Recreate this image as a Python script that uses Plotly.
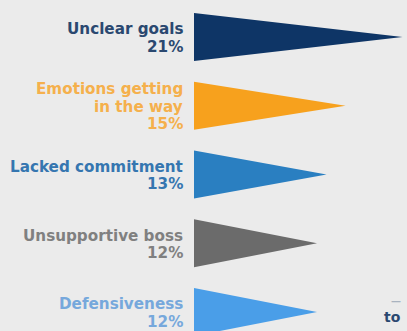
import plotly.graph_objects as go

categories = ["Unclear goals", "Emotions getting<br>in the way", "Lacked commitment",
              "Unsupportive boss", "Defensiveness"]
values = [21, 15, 13, 12, 12]
tri_colors = ["#0e3566", "#f7a11d", "#2a7fc1", "#6b6b6b", "#4a9ee8"]
text_colors = ["#2a4870", "#f5b04c", "#3576b0", "#808080", "#76a8dc"]

base = -0.95      # triangle base position (x units)
half = 0.349      # half triangle height (category units)
line_px = 17.5    # label line spacing in px

fig = go.Figure()
for i, (cat, v, c) in enumerate(zip(categories, values, tri_colors)):
    fig.add_trace(go.Scatter(
        x=[base, v, base, base], y=[i - half, i, i + half, i - half],
        mode="lines", fill="toself", fillcolor=c, line=dict(color=c, width=0),
        hoverinfo="skip", showlegend=False))
    lines = cat.split("<br>") + [f"{v}%"]
    n = len(lines)
    for k, ln in enumerate(lines):
        fig.add_annotation(x=-1.9, y=i, xref="x", yref="y", xanchor="right", yanchor="middle",
                           yshift=-(k - (n - 1) / 2) * line_px - 1,
                           text=f"<b>{ln}</b>", align="right", showarrow=False,
                           font=dict(family="DejaVu Sans", size=15.2, color=text_colors[i]))

fig.add_annotation(x=0.99, y=0.09, xref="paper", yref="paper", xanchor="right", yanchor="middle",
                   text="<b>—</b>", showarrow=False,
                   font=dict(family="DejaVu Sans", size=10, color="#a9b3c0"))
fig.add_annotation(x=0.99, y=0.042, xref="paper", yref="paper", xanchor="right", yanchor="middle",
                   text="<b>to</b>", showarrow=False,
                   font=dict(family="DejaVu Sans", size=14, color="#2a4870"))

fig.update_xaxes(range=[-21.37, 21.47], visible=False, fixedrange=True)
fig.update_yaxes(range=[4.276, -0.538], visible=False, fixedrange=True)
fig.update_layout(width=407, height=331, margin=dict(l=0, r=0, t=0, b=0),
                  paper_bgcolor="#ebebeb", plot_bgcolor="#ebebeb")
fig.write_html("out.html")
